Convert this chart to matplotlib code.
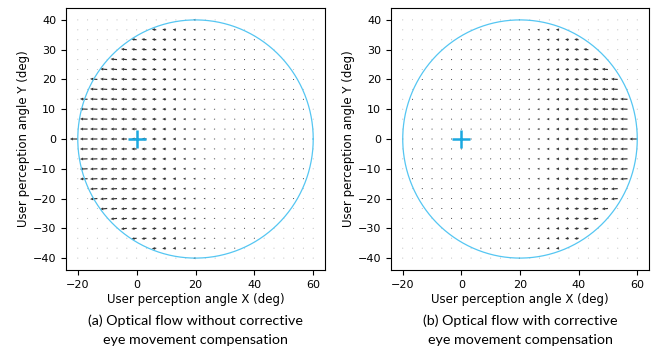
import numpy as np
import matplotlib
matplotlib.use("Agg")
import matplotlib.pyplot as plt

# sampling grid of the flow field (deg)
grid_x = np.linspace(-20, 60, 25)
grid_y = np.linspace(-40, 40, 25)

# horizontal flow per column (deg)
u_without = [-2.7, -2.6, -2.5, -2.4, -2.2, -2.0, -1.8, -1.7, -1.5, -1.3, -1.1, -0.9,
             -0.8, -0.6, -0.5, -0.35, -0.25, -0.15, -0.05, 0, 0, 0, 0, 0, 0]
u_with = [0, 0, 0, 0, 0, 0, 0, 0, -0.05, -0.15, -0.25, -0.35, -0.5,
          -0.65, -0.8, -0.95, -1.1, -1.3, -1.5, -1.7, -1.9, -2.1, -2.3, -2.5, -2.7]
# vertical slope of the arrows per row (bottom to top)
row_slope = [-0.15, -0.14, -0.13, -0.12, -0.10, -0.09, -0.08, -0.06, -0.05, -0.04, -0.03, -0.01, 0,
             0.01, 0.03, 0.04, 0.05, 0.06, 0.08, 0.09, 0.10, 0.12, 0.13, 0.14, 0.15]

circle_cx, circle_cy, circle_r = 20, 0, 40

captions = ["(a) Optical flow without corrective\neye movement compensation",
            "(b) Optical flow with corrective\neye movement compensation"]

fig = plt.figure(figsize=(6.59, 3.5), dpi=100)
ax1 = fig.add_axes([66/659, 80/350, 259/659, 262/350])
ax2 = fig.add_axes([391/659, 80/350, 258/659, 262/350])

X, Y = np.meshgrid(grid_x, grid_y)
inside = (X - circle_cx)**2 + (Y - circle_cy)**2 <= circle_r**2 + 1e-6

for ax, u_col, cap in [(ax1, u_without, captions[0]), (ax2, u_with, captions[1])]:
    U = np.tile(np.array(u_col), (len(grid_y), 1))
    V = np.abs(U) * np.array(row_slope)[:, None]
    U = np.where(inside, U, 0)
    V = np.where(inside, V, 0)
    kw = dict(angles='xy', scale_units='xy', scale=1, width=0.0045,
              headwidth=2.6, headlength=2.8, headaxislength=2.5)
    ax.quiver(X[~inside], Y[~inside], U[~inside], V[~inside], color='0.72', **kw)
    ax.quiver(X[inside], Y[inside], U[inside], V[inside], color='0.2', **kw)

    t = np.linspace(0, 2*np.pi, 400)
    ax.plot(circle_cx + circle_r*np.cos(t), circle_cy + circle_r*np.sin(t),
            color='#55c6f2', lw=0.9)
    ax.plot([0], [0], marker='+', color='#1aa8e0', markersize=13, mew=1.8)

    ax.set_xlim(-24, 64)
    ax.set_ylim(-44, 44)
    ax.set_xticks([-20, 0, 20, 40, 60])
    ax.set_yticks(np.arange(-40, 41, 10))
    ax.tick_params(labelsize=8)
    ax.set_xlabel("User perception angle X (deg)", fontsize=8.5, labelpad=2)
    ax.set_ylabel("User perception angle Y (deg)", fontsize=8.5, labelpad=2)
    ax.text(0.5, -0.17, cap, transform=ax.transAxes, ha='center', va='top',
            fontsize=10.3, family='Lato', linespacing=1.65)

fig.savefig("out.png", dpi=100)
